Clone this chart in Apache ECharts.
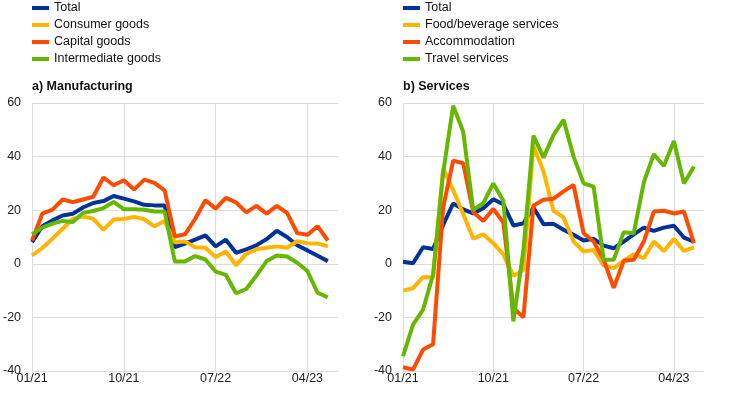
<!DOCTYPE html>
<html>
<head>
<meta charset="utf-8">
<script src="https://cdn.jsdelivr.net/npm/echarts@6/dist/echarts.min.js"></script>
<style>
  html, body { margin: 0; padding: 0; background: #fff; }
  #chart { width: 742px; height: 397px; }
</style>
</head>
<body>
<div id="chart"></div>
<script>
// months 01/21 .. 07/23 (last data point is 06/23)
const months = [
  '01/21', '02/21', '03/21', '04/21', '05/21', '06/21', '07/21', '08/21', '09/21',
  '10/21', '11/21', '12/21', '01/22', '02/22', '03/22', '04/22', '05/22', '06/22',
  '07/22', '08/22', '09/22', '10/22', '11/22', '12/22', '01/23', '02/23', '03/23',
  '04/23', '05/23', '06/23', '07/23'
];

// a) Manufacturing
const mfgNames = ['Total', 'Consumer goods', 'Capital goods', 'Intermediate goods'];
const mfgTotal = [8.1, 14, 16.2, 18, 18.7, 21, 22.7, 23.4, 25.3, 24.3, 23.3, 22, 21.8, 21.8,
  6.2, 7.5, 9, 10.6, 6.5, 9, 4.1, 5.4, 6.9, 9.2, 12.3, 10, 6.9, 5, 3, 1];
const mfgConsumer = [3.1, 5.9, 9.4, 13.1, 16.8, 17.7, 16.8, 12.7, 16.5, 16.7, 17.5, 16.6, 14, 16,
  8, 8.3, 6.2, 6, 2.5, 4.6, -0.6, 3.7, 5.4, 6, 6.5, 6, 8.4, 7.7, 7.6, 6.5];
const mfgCapital = [8.7, 18.7, 20.2, 24, 23, 24, 25, 32.2, 29.3, 31.2, 27.7, 31.4, 30.2, 27.4,
  10.2, 11, 16.8, 23.7, 20.6, 24.6, 22.9, 19.2, 21.6, 18.7, 21.6, 19, 11.5, 10.8, 14, 8.7];
const mfgInter = [11, 13.5, 15, 16, 15.6, 19, 19.7, 20.8, 23.1, 20.4, 20.4, 20.2, 19.5, 19.5,
  0.9, 0.9, 2.9, 1.6, -2.9, -4.1, -11, -9.4, -4.4, 1, 3.1, 2.7, 0.4, -2.7, -10.8, -12.5];

// b) Services
const svcNames = ['Total', 'Food/beverage services', 'Accommodation', 'Travel services'];
const svcTotal = [0.8, 0.2, 6.2, 5.5, 14.5, 22.5, 20.3, 18.8, 20.7, 24.1, 22.2, 14.3, 15.1, 21,
  14.8, 14.9, 12.7, 10.8, 8.7, 9.3, 6.8, 5.8, 8.3, 11, 13.5, 12.3, 13.5, 14.2, 9.8, 8.3];
const svcFood = [-10, -9.1, -5, -5, 35.5, 27.5, 18.6, 9.4, 11, 7.7, 3.5, -4.5, -2.3, 44,
  34.5, 19.8, 17.3, 8.3, 4.6, 5.2, -0.6, -1.6, 1.2, 3.6, 2.1, 8.3, 4.8, 9.3, 4.8, 6.1];
const svcAccom = [-38.6, -39.5, -32, -30, 21, 38.5, 37.5, 19.3, 16, 20.5, 15.4, -16.5, -20, 21.7,
  23.9, 24.3, 27, 29.4, 11.4, 8.3, 1.5, -9, 1.1, 1.5, 8.3, 19.5, 19.8, 18.8, 19.5, 7.7];
const svcTravel = [-34.5, -22.7, -17.1, -4, 34, 59, 49.3, 20.1, 22.6, 30, 23.5, -21.5, 5, 47.8,
  39.6, 48, 53.7, 40, 30, 28.8, 1.5, 1.5, 11.8, 11.4, 30.4, 40.9, 36.5, 45.8, 30, 36.3];

const colors = ['#003299', '#ffb400', '#ff4b00', '#65b800'];
const font = 'Liberation Sans, Arial, sans-serif';
const gridColor = '#dcdcdc';

function xAxis(idx) {
  return {
    type: 'category', gridIndex: idx, data: months, boundaryGap: false,
    axisLine: {show: false}, axisTick: {show: false},
    axisLabel: {interval: 8, margin: 1, color: '#222', fontSize: 12.5, fontFamily: font},
    splitLine: {show: true, interval: 8, lineStyle: {color: gridColor, width: 1}}
  };
}

function yAxis(idx) {
  return {
    type: 'value', gridIndex: idx, min: -40, max: 60, interval: 20,
    axisLine: {show: false}, axisTick: {show: false},
    axisLabel: {margin: 11, color: '#222', fontSize: 12.5, fontFamily: font},
    splitLine: {lineStyle: {color: gridColor, width: 1}}
  };
}

function line(name, data, i, idx) {
  return {
    name: name, type: 'line', data: data, xAxisIndex: idx, yAxisIndex: idx,
    symbol: 'none', color: colors[i], lineStyle: {width: 4, color: colors[i]},
    animation: false
  };
}

function legend(names, left) {
  return {
    data: names, orient: 'vertical', left: left, top: 1, padding: 0,
    icon: 'rect', itemWidth: 17, itemHeight: 4, itemGap: 3,
    textStyle: {fontSize: 12.5, lineHeight: 14, color: '#111', fontFamily: font}
  };
}

const chart = echarts.init(document.getElementById('chart'));
chart.setOption({
  animation: false,
  title: [
    {text: 'a) Manufacturing', left: 32, top: 80, padding: 0,
     textStyle: {fontSize: 12.5, fontWeight: 'bold', color: '#111', fontFamily: font}},
    {text: 'b) Services', left: 403, top: 80, padding: 0,
     textStyle: {fontSize: 12.5, fontWeight: 'bold', color: '#111', fontFamily: font}}
  ],
  legend: [legend(mfgNames, 32), legend(svcNames, 403)],
  grid: [
    {left: 32, top: 103, width: 306, height: 268},
    {left: 403, top: 103, width: 301, height: 268}
  ],
  xAxis: [xAxis(0), xAxis(1)],
  yAxis: [yAxis(0), yAxis(1)],
  series: [
    line(mfgNames[0], mfgTotal, 0, 0),
    line(mfgNames[1], mfgConsumer, 1, 0),
    line(mfgNames[2], mfgCapital, 2, 0),
    line(mfgNames[3], mfgInter, 3, 0),
    line(svcNames[0], svcTotal, 0, 1),
    line(svcNames[1], svcFood, 1, 1),
    line(svcNames[2], svcAccom, 2, 1),
    line(svcNames[3], svcTravel, 3, 1)
  ]
});
</script>
</body>
</html>
